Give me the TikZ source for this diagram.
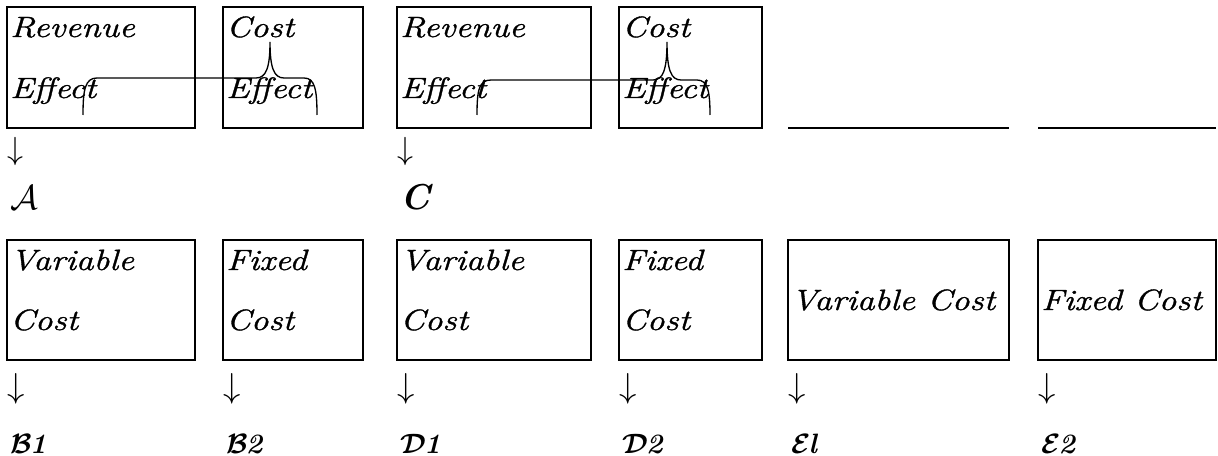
\documentclass[tikz,border=0pt]{standalone}
\usepackage{fix-cm}
\usepackage{fontspec}
\newfontfamily\scr{Latin Modern Roman}[FakeStretch=1.2,FakeBold=1.2]
\newfontfamily\scrb{Latin Modern Roman}[FakeStretch=1.0]
\usetikzlibrary{fit,calc}
\tikzset{
  boxed/.style={draw, line width=1.8pt, inner sep=0pt},
  txt/.style={anchor=base west, inner sep=0pt, font=\scr\itshape\fontsize{22}{26}\selectfont},
  arrtop/.style={anchor=base west, inner sep=0pt, font=\fontsize{24}{28}\selectfont},
  arrbot/.style={anchor=base west, inner sep=0pt, font=\fontsize{26}{30}\selectfont},
  lab/.style={anchor=base west, inner sep=0pt, font=\scrb\itshape\fontsize{26}{30}\selectfont},
  clab/.style={anchor=base west, inner sep=0pt, font=\scrb\bfseries\itshape\fontsize{27}{30}\selectfont},
  blab/.style={anchor=base west, inner sep=0pt, font=\scrb\bfseries\itshape\boldmath\fontsize{21}{26}\selectfont},
  brace/.style={line width=1pt},
  rule/.style={line width=1.8pt},
}
\begin{document}
\begin{tikzpicture}[x=0.75pt,y=-0.75pt]
\useasboundingbox (0,0) rectangle (1218,456);
% top row boxes
\node[boxed, fit={(7,7) (195,128)}] (t1) {};
\node[boxed, fit={(223,7) (363,128)}] (t2) {};
\node[boxed, fit={(397,7) (591,128)}] (t3) {};
\node[boxed, fit={(619,7) (762,128)}] (t4) {};
\coordinate (t5l) at (788,128);
\coordinate (t5r) at (1009,128);
\coordinate (t6l) at (1038,128);
\coordinate (t6r) at (1216,128);
\draw[rule] (t5l) -- (t5r);
\draw[rule] (t6l) -- (t6r);
% bottom row boxes
\node[boxed, fit={(7,240) (195,360)}] (b1) {};
\node[boxed, fit={(223,240) (363,360)}] (b2) {};
\node[boxed, fit={(397,240) (591,360)}] (b3) {};
\node[boxed, fit={(619,240) (762,360)}] (b4) {};
\node[boxed, fit={(788,240) (1009,360)}] (b5) {};
\node[boxed, fit={(1038,240) (1216,360)}] (b6) {};
% top texts
\node[txt] (t1a) at (10,37) {Revenue};
\node[txt] (t1b) at (10,98) {Effect};
\node[txt] (t2a) at (226,37) {Cost};
\node[txt] (t2b) at (226,98) {Effect};
\node[txt] (t3a) at (400,37) {Revenue};
\node[txt] (t3b) at (400,98) {Effect};
\node[txt] (t4a) at (622,37) {Cost};
\node[txt] (t4b) at (622,98) {Effect};
% braces
\draw[brace] (83,115) .. controls (83,90) and (85,78) .. (97,78) -- (256,78)
  .. controls (266,78) and (270,68) .. (270,42)
  .. controls (270,68) and (274,78) .. (284,78) -- (304,78)
  .. controls (315,78) and (317,90) .. (317,115);
\draw[brace] (477,115) .. controls (477,90) and (479,80) .. (491,80) -- (653,80)
  .. controls (663,80) and (667,70) .. (667,42)
  .. controls (667,70) and (671,80) .. (681,80) -- (697,80)
  .. controls (708,80) and (710,92) .. (710,115);
% top arrows and labels
\node[arrtop] (ta1) at (7,160) {$\downarrow$};
\node[arrtop] (ta3) at (397,160) {$\downarrow$};
\node[lab] (lA) at (10,210) {$\mathcal{A}$};
\node[clab] (lC) at (400,210) {C};
% bottom texts
\node[txt] (b1a) at (10,270) {Variable};
\node[txt] (b1b) at (10,330) {Cost};
\node[txt] (b2a) at (226,270) {Fixed};
\node[txt] (b2b) at (226,330) {Cost};
\node[txt] (b3a) at (400,270) {Variable};
\node[txt] (b3b) at (400,330) {Cost};
\node[txt] (b4a) at (622,270) {Fixed};
\node[txt] (b4b) at (622,330) {Cost};
\node[txt] (b5a) at (791,310) {Variable Cost};
\node[txt] (b6a) at (1041,310) {Fixed Cost};
% bottom arrows
\node[arrbot] (ba1) at (7,397) {$\downarrow$};
\node[arrbot] (ba2) at (223,397) {$\downarrow$};
\node[arrbot] (ba3) at (397,397) {$\downarrow$};
\node[arrbot] (ba4) at (619,397) {$\downarrow$};
\node[arrbot] (ba5) at (788,397) {$\downarrow$};
\node[arrbot] (ba6) at (1038,397) {$\downarrow$};
% bottom labels
\node[blab] (lB1) at (10,453) {$\mathcal{B}$\kern-1.5pt1};
\node[blab] (lB2) at (226,453) {$\mathcal{B}$\kern-1.5pt2};
\node[blab] (lD1) at (400,453) {$\mathcal{D}$\kern-1.5pt1};
\node[blab] (lD2) at (622,453) {$\mathcal{D}$\kern-1.5pt2};
\node[blab] (lE1) at (791,453) {$\mathcal{E}$\kern-1.5pt l};
\node[blab] (lE2) at (1041,453) {$\mathcal{E}$\kern-1.5pt2};
\end{tikzpicture}
\end{document}
